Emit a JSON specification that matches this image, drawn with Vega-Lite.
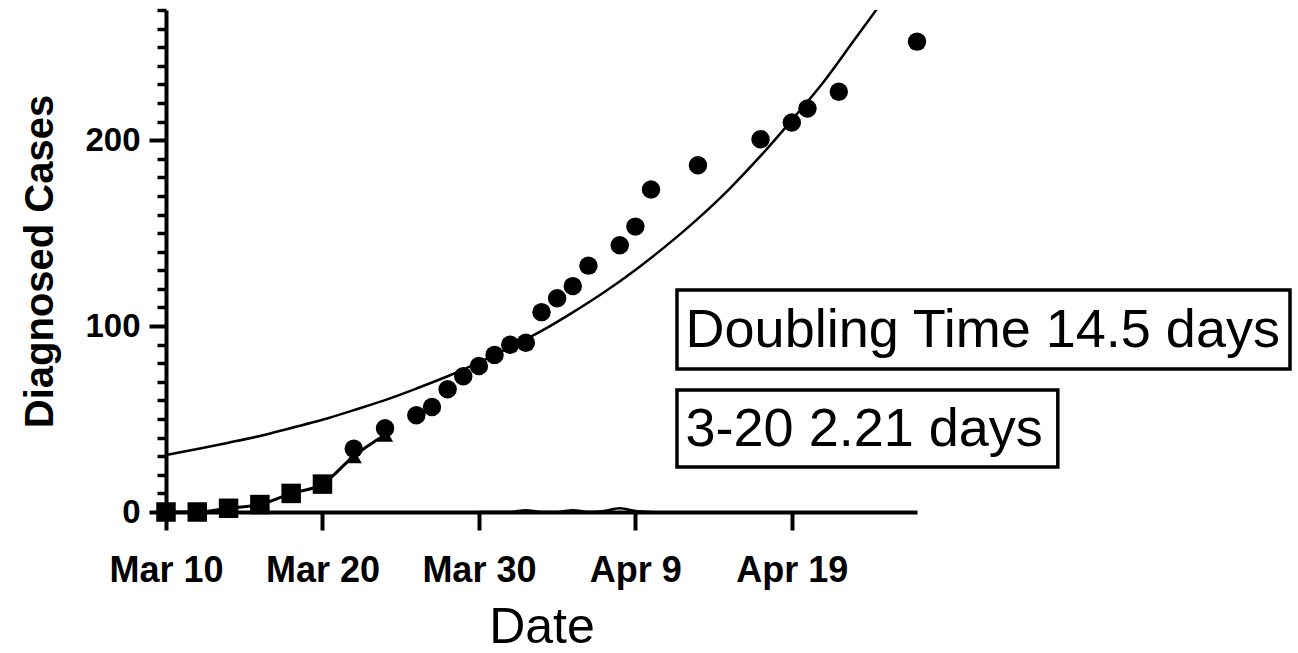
{
  "$schema": "https://vega.github.io/schema/vega-lite/v6.json",
  "width": 751,
  "height": 502,
  "autosize": {"type": "none"},
  "padding": {"left": 166, "top": 10, "right": 381, "bottom": 141},
  "background": "white",
  "config": {
    "view": {"stroke": null},
    "font": "Liberation Sans",
    "axis": {"grid": false, "domainColor": "black", "tickColor": "black", "labelColor": "black", "titleColor": "black"}
  },
  "datasets": {
    "cases": [
      {"date": "2020-03-22T00:00:00", "cases": 34},
      {"date": "2020-03-24T00:00:00", "cases": 45},
      {"date": "2020-03-26T00:00:00", "cases": 52},
      {"date": "2020-03-27T00:00:00", "cases": 56.5},
      {"date": "2020-03-28T00:00:00", "cases": 66},
      {"date": "2020-03-29T00:00:00", "cases": 73},
      {"date": "2020-03-30T00:00:00", "cases": 78.5},
      {"date": "2020-03-31T00:00:00", "cases": 84.5},
      {"date": "2020-04-01T00:00:00", "cases": 90},
      {"date": "2020-04-02T00:00:00", "cases": 91},
      {"date": "2020-04-03T00:00:00", "cases": 107.5},
      {"date": "2020-04-04T00:00:00", "cases": 115},
      {"date": "2020-04-05T00:00:00", "cases": 121.5},
      {"date": "2020-04-06T00:00:00", "cases": 132.5},
      {"date": "2020-04-08T00:00:00", "cases": 143.5},
      {"date": "2020-04-09T00:00:00", "cases": 153.5},
      {"date": "2020-04-10T00:00:00", "cases": 173.5},
      {"date": "2020-04-13T00:00:00", "cases": 186.5},
      {"date": "2020-04-17T00:00:00", "cases": 200.5},
      {"date": "2020-04-19T00:00:00", "cases": 209.5},
      {"date": "2020-04-20T00:00:00", "cases": 217},
      {"date": "2020-04-22T00:00:00", "cases": 226},
      {"date": "2020-04-27T00:00:00", "cases": 253}
    ],
    "fit": [
      {"date": "2020-03-10T00:00:00", "cases": 30.7},
      {"date": "2020-03-12T00:00:00", "cases": 33.9},
      {"date": "2020-03-14T00:00:00", "cases": 37.3},
      {"date": "2020-03-16T00:00:00", "cases": 40.9},
      {"date": "2020-03-18T00:00:00", "cases": 45.2},
      {"date": "2020-03-20T00:00:00", "cases": 49.6},
      {"date": "2020-03-22T00:00:00", "cases": 54.8},
      {"date": "2020-03-24T00:00:00", "cases": 60.2},
      {"date": "2020-03-26T00:00:00", "cases": 66.4},
      {"date": "2020-03-28T00:00:00", "cases": 73.0},
      {"date": "2020-03-30T00:00:00", "cases": 80.5},
      {"date": "2020-04-01T00:00:00", "cases": 88.6},
      {"date": "2020-04-03T00:00:00", "cases": 97.4},
      {"date": "2020-04-05T00:00:00", "cases": 107.4},
      {"date": "2020-04-07T00:00:00", "cases": 118.2},
      {"date": "2020-04-09T00:00:00", "cases": 130.2},
      {"date": "2020-04-11T00:00:00", "cases": 143.4},
      {"date": "2020-04-13T00:00:00", "cases": 157.8},
      {"date": "2020-04-15T00:00:00", "cases": 173.7},
      {"date": "2020-04-17T00:00:00", "cases": 191.5},
      {"date": "2020-04-19T00:00:00", "cases": 210.8},
      {"date": "2020-04-21T00:00:00", "cases": 231},
      {"date": "2020-04-23T00:00:00", "cases": 254},
      {"date": "2020-04-25T00:00:00", "cases": 277}
    ],
    "early": [
      {"date": "2020-03-10T00:00:00", "cases": 0, "marker": "square"},
      {"date": "2020-03-12T00:00:00", "cases": 0, "marker": "square"},
      {"date": "2020-03-14T00:00:00", "cases": 2, "marker": "square"},
      {"date": "2020-03-16T00:00:00", "cases": 4, "marker": "square"},
      {"date": "2020-03-18T00:00:00", "cases": 10, "marker": "square"},
      {"date": "2020-03-20T00:00:00", "cases": 15, "marker": "square"},
      {"date": "2020-03-22T00:00:00", "cases": 30, "marker": "triangle"},
      {"date": "2020-03-24T00:00:00", "cases": 41.5, "marker": "triangle"}
    ],
    "deaths": [
      {"date": "2020-03-30T00:00:00", "cases": 0},
      {"date": "2020-03-31T00:00:00", "cases": 0},
      {"date": "2020-04-01T00:00:00", "cases": 0},
      {"date": "2020-04-02T00:00:00", "cases": 1},
      {"date": "2020-04-03T00:00:00", "cases": 0},
      {"date": "2020-04-04T00:00:00", "cases": 0},
      {"date": "2020-04-05T00:00:00", "cases": 1},
      {"date": "2020-04-06T00:00:00", "cases": 0},
      {"date": "2020-04-07T00:00:00", "cases": 0.5},
      {"date": "2020-04-08T00:00:00", "cases": 2},
      {"date": "2020-04-09T00:00:00", "cases": 0.5},
      {"date": "2020-04-10T00:00:00", "cases": 0}
    ],
    "boxes": [
      {"start": "2020-04-11T15:50:00", "end": "2020-05-20T20:10:00", "top": 119.4, "bottom": 76.9},
      {"start": "2020-04-11T15:50:00", "end": "2020-05-06T00:00:00", "top": 65.6, "bottom": 24.2}
    ],
    "labels": [
      {"date": "2020-04-12T05:00:00", "cases": 88.7, "label": "Doubling Time 14.5 days"},
      {"date": "2020-04-12T05:00:00", "cases": 35.5, "label": "3-20 2.21 days"}
    ]
  },
  "resolve": {"axis": {"y": "independent"}},
  "layer": [
    {
      "data": {"name": "boxes"},
      "mark": {"type": "rect", "fill": null, "stroke": "black", "strokeWidth": 3.5, "clip": false},
      "encoding": {
        "x": {"field": "start", "type": "temporal"},
        "x2": {"field": "end"},
        "y": {"field": "top", "type": "quantitative", "axis": null},
        "y2": {"field": "bottom"}
      }
    },
    {
      "data": {"name": "deaths"},
      "mark": {"type": "line", "color": "black", "strokeWidth": 2.5, "interpolate": "monotone"},
      "encoding": {
        "x": {"field": "date", "type": "temporal"},
        "y": {"field": "cases", "type": "quantitative", "axis": null}
      }
    },
    {
      "data": {"name": "fit"},
      "mark": {"type": "line", "color": "black", "strokeWidth": 2.5, "interpolate": "monotone", "clip": true},
      "encoding": {
        "x": {"field": "date", "type": "temporal"},
        "y": {
          "field": "cases", "type": "quantitative",
          "axis": {
            "orient": "left",
            "values": [10, 20, 30, 40, 50, 60, 70, 80, 90, 110, 120, 130, 140, 150, 160, 170, 180, 190, 210, 220, 230, 240, 250, 260, 270],
            "labels": false, "domain": false, "title": null, "tickSize": 9, "tickWidth": 3.5
          }
        }
      }
    },
    {
      "data": {"name": "early"},
      "mark": {"type": "line", "color": "black", "strokeWidth": 3, "interpolate": "monotone"},
      "encoding": {
        "x": {"field": "date", "type": "temporal"},
        "y": {"field": "cases", "type": "quantitative", "axis": null}
      }
    },
    {
      "data": {"name": "early"},
      "transform": [{"filter": "datum.marker === 'triangle'"}],
      "mark": {"type": "point", "shape": "triangle-up", "filled": true, "color": "black", "size": 260, "opacity": 1},
      "encoding": {
        "x": {"field": "date", "type": "temporal"},
        "y": {"field": "cases", "type": "quantitative", "axis": null}
      }
    },
    {
      "data": {"name": "early"},
      "transform": [{"filter": "datum.marker === 'square'"}],
      "mark": {"type": "square", "color": "black", "size": 380, "opacity": 1},
      "encoding": {
        "x": {"field": "date", "type": "temporal"},
        "y": {"field": "cases", "type": "quantitative", "axis": null}
      }
    },
    {
      "data": {"name": "cases"},
      "mark": {"type": "circle", "color": "black", "size": 340, "opacity": 1},
      "encoding": {
        "x": {
          "field": "date", "type": "temporal",
          "scale": {"domain": [{"year": 2020, "month": 3, "date": 10}, {"year": 2020, "month": 4, "date": 27}]},
          "axis": {
            "values": [{"year": 2020, "month": 3, "date": 10}, {"year": 2020, "month": 3, "date": 20}, {"year": 2020, "month": 3, "date": 30}, {"year": 2020, "month": 4, "date": 9}, {"year": 2020, "month": 4, "date": 19}],
            "format": "%b %-d",
            "labelFont": "Liberation Sans", "labelFontWeight": "bold", "labelFontSize": 36,
            "labelPadding": 23, "labelFlush": false, "labelOverlap": false,
            "domainWidth": 4, "tickWidth": 4, "tickSize": 18,
            "title": "Date", "titleFont": "Liberation Sans", "titleFontWeight": "normal", "titleFontSize": 50,
            "titleBaseline": "alphabetic", "titleX": 375.5, "titleY": 130
          }
        },
        "y": {
          "field": "cases", "type": "quantitative",
          "scale": {"domain": [0, 270], "nice": false},
          "axis": {
            "orient": "left",
            "values": [0, 100, 200],
            "labelFont": "Liberation Sans", "labelFontWeight": "bold", "labelFontSize": 33,
            "labelPadding": 9,
            "domainWidth": 4, "tickWidth": 4, "tickSize": 17,
            "title": "Diagnosed Cases", "titleFont": "Liberation Sans", "titleFontWeight": "bold", "titleFontSize": 40,
            "titleAngle": 270, "titleBaseline": "alphabetic", "titleX": -114, "titleY": 251
          }
        }
      }
    },
    {
      "data": {"name": "labels"},
      "mark": {"type": "text", "align": "left", "baseline": "alphabetic", "font": "Liberation Sans", "fontSize": 54, "color": "black", "clip": false},
      "encoding": {
        "x": {"field": "date", "type": "temporal"},
        "y": {"field": "cases", "type": "quantitative", "axis": null},
        "text": {"field": "label"}
      }
    }
  ]
}
